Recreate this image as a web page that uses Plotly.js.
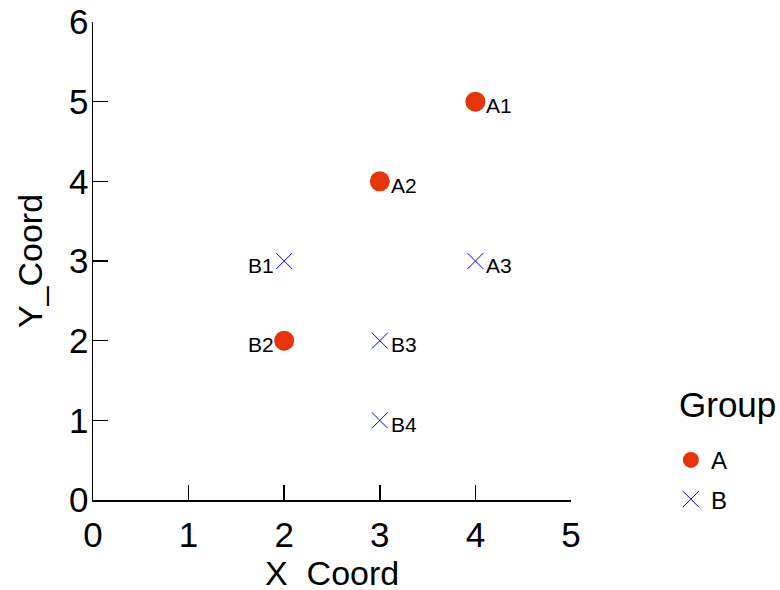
<!DOCTYPE html>
<html>
<head>
<meta charset="utf-8">
<script src="https://cdn.plot.ly/plotly-3.0.1.min.js"></script>
<style>html,body{margin:0;padding:0;background:#fff;}#chart{width:780px;height:590px;}</style>
</head>
<body>
<div id="chart"></div>
<script>
// Data
const groupNames = ['A', 'B'];
const legendTitle = 'Group';
const xTitle = 'X_Coord';
const yTitle = 'Y_Coord';
const groupA_x = [4, 3, 2];
const groupA_y = [5, 4, 2];
const groupA_labels = ['A1', 'A2', 'B2'];
const groupB_x = [2, 4, 3, 3];
const groupB_y = [3, 3, 2, 1];
const groupB_labels = ['B1', 'A3', 'B3', 'B4'];
const xTicks = [0, 1, 2, 3, 4, 5];
const yTicks = [0, 1, 2, 3, 4, 5, 6];

// Styles
const FONT = 'Liberation Sans, Arial, sans-serif';
const sideA = ['right', 'right', 'left'];
const sideB = ['left', 'right', 'right', 'right'];

const traces = [
  {
    type: 'scatter', mode: 'markers', name: groupNames[0], legendgroup: 'a',
    x: groupA_x, y: groupA_y,
    marker: {symbol: 'circle', size: 20, color: '#E8340A'},
    cliponaxis: false
  },
  {
    type: 'scatter', mode: 'markers', name: groupNames[1], legendgroup: 'b',
    x: groupB_x, y: groupB_y,
    marker: {symbol: 'x-thin-open', size: 16, color: '#0000FF', line: {color: '#0000FF', width: 1}},
    cliponaxis: false
  }
];

function labelAnns(xs, ys, labels, sides) {
  return xs.map((x, i) => ({
    x: x, y: ys[i], xref: 'x', yref: 'y', text: labels[i], showarrow: false,
    xanchor: sides[i] === 'right' ? 'left' : 'right',
    xshift: sides[i] === 'right' ? 9 : -8, yshift: -4,
    font: {family: FONT, size: 21, color: '#000'}
  }));
}
const annotations = labelAnns(groupA_x, groupA_y, groupA_labels, sideA)
  .concat(labelAnns(groupB_x, groupB_y, groupB_labels, sideB));
annotations.push({
  text: legendTitle, xref: 'paper', yref: 'paper', x: 1.222, y: 0.199,
  xanchor: 'left', yanchor: 'middle', showarrow: false,
  font: {family: FONT, size: 35, color: '#000'}
});
annotations.push({
  text: xTitle, xref: 'paper', yref: 'paper', x: 0.5, y: -0.1527,
  xanchor: 'center', yanchor: 'middle', showarrow: false,
  font: {family: FONT, size: 34, color: '#000'}
});

const axisCommon = {
  showgrid: false, zeroline: false, showline: true, linecolor: '#000', linewidth: 1.5,
  ticks: 'inside', ticklen: 15, tickwidth: 1.5, tickcolor: '#000',
  tickfont: {family: FONT, size: 35, color: '#000'}
};

const layout = {
  width: 780, height: 590,
  margin: {l: 93, r: 209, t: 22, b: 90, autoexpand: false},
  paper_bgcolor: '#fff', plot_bgcolor: '#fff',
  font: {family: FONT, color: '#000'},
  xaxis: Object.assign({}, axisCommon, {
    range: [0, 5], tickvals: xTicks, ticklabelstandoff: 3
  }),
  yaxis: Object.assign({}, axisCommon, {
    range: [0, 6], tickvals: yTicks, ticklabelstandoff: -4,
    title: {text: yTitle, font: {family: FONT, size: 34, color: '#000'}, standoff: 16}
  }),
  annotations: annotations,
  showlegend: true,
  legend: {
    x: 1.209, xanchor: 'left', y: 0.13, yanchor: 'top',
    font: {family: FONT, size: 24, color: '#000'},
    tracegroupgap: 5, bgcolor: 'rgba(0,0,0,0)'
  }
};

Plotly.newPlot('chart', traces, layout, {displayModeBar: false, staticPlot: true});
</script>
</body>
</html>
